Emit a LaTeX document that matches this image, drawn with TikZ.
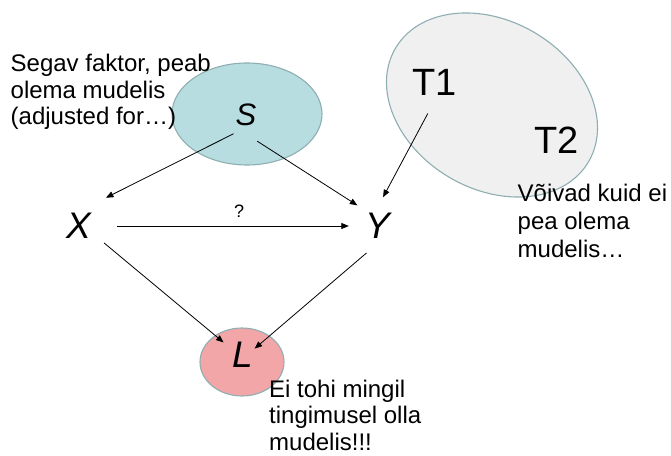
\documentclass[tikz,border=0pt]{standalone}
\usepackage{fontspec}
\setmainfont{Liberation Sans}
\usetikzlibrary{arrows.meta}

\definecolor{confblue}{HTML}{B7DDE0}
\definecolor{colpink}{HTML}{F2A6A8}
\definecolor{optgray}{HTML}{F0F0F0}
\definecolor{rim}{HTML}{8FAEB2}

\tikzset{
  var/.style={circle, inner sep=0pt, font=\fontsize{37}{37}\selectfont\itshape},
  note/.style={anchor=north west, align=left, inner sep=0pt, font=\fontsize{24}{26.5}\selectfont},
  arr/.style={-{Triangle[length=7.5pt,width=6pt]}, line width=0.8pt},
  blob/.style={draw=rim, line width=1.1pt}
}

\begin{document}
\begin{tikzpicture}[x=1pt,y=1pt]
\useasboundingbox (0,0) rectangle (671,455);

% les ensembles
\draw[blob, fill=confblue] (247,341) ellipse [x radius=75pt, y radius=51pt];
\draw[blob, fill=colpink] (242,93) ellipse [x radius=42pt, y radius=34pt];
\begin{scope}[shift={(492,350)}, rotate=-30.5]
\draw[blob, fill=optgray] (0,0) ellipse [x radius=112pt, y radius=84pt];
\end{scope}

% variables
\node[var, minimum size=50pt, font=\fontsize{31}{31}\selectfont\itshape] (S) at (246,340) {S};
\node[var, minimum size=72pt] (X) at (79,229) {X};
\node[var, minimum size=58pt] (Y) at (378,229) {Y};
\node[var, minimum size=36pt] (L) at (243,100) {L};
\node[var, minimum size=64pt, font=\fontsize{38}{38}\selectfont] (T1) at (434.5,373) {T1};
\node[var, minimum size=64pt, font=\fontsize{38}{38}\selectfont] (T2) at (556.5,315) {T2};

% commentaires
\node[note] (segav) at (10.5,401) {Segav faktor, peab\\olema mudelis\\(adjusted for…)};
\node[note, font=\fontsize{24}{28}\selectfont] (voivad) at (517.5,271) {Võivad kuid ei\\pea olema\\mudelis…};
\node[note] (tohi) at (269,75.5) {Ei tohi mingil\\tingimusel olla\\mudelis!!!};

% fleches
\draw[arr, shorten <=-3pt, shorten >=3pt] (S.-127) -- (X.48);
\draw[arr, shorten <=4pt] (S.-72) -- (Y.135);
\draw[arr, shorten <=2pt] (X.0) -- (Y.180)
  node[pos=0.53, above=8pt, inner sep=0pt, font=\fontsize{18}{18}\selectfont] (q) {?};
\draw[arr] (T1.-102) -- (Y.80);
\draw[arr, shorten <=-6pt, shorten >=5pt] (X.-35) -- (L.149);
\draw[arr, shorten >=-5pt] (Y.-113) -- (L.32);

\end{tikzpicture}
\end{document}
